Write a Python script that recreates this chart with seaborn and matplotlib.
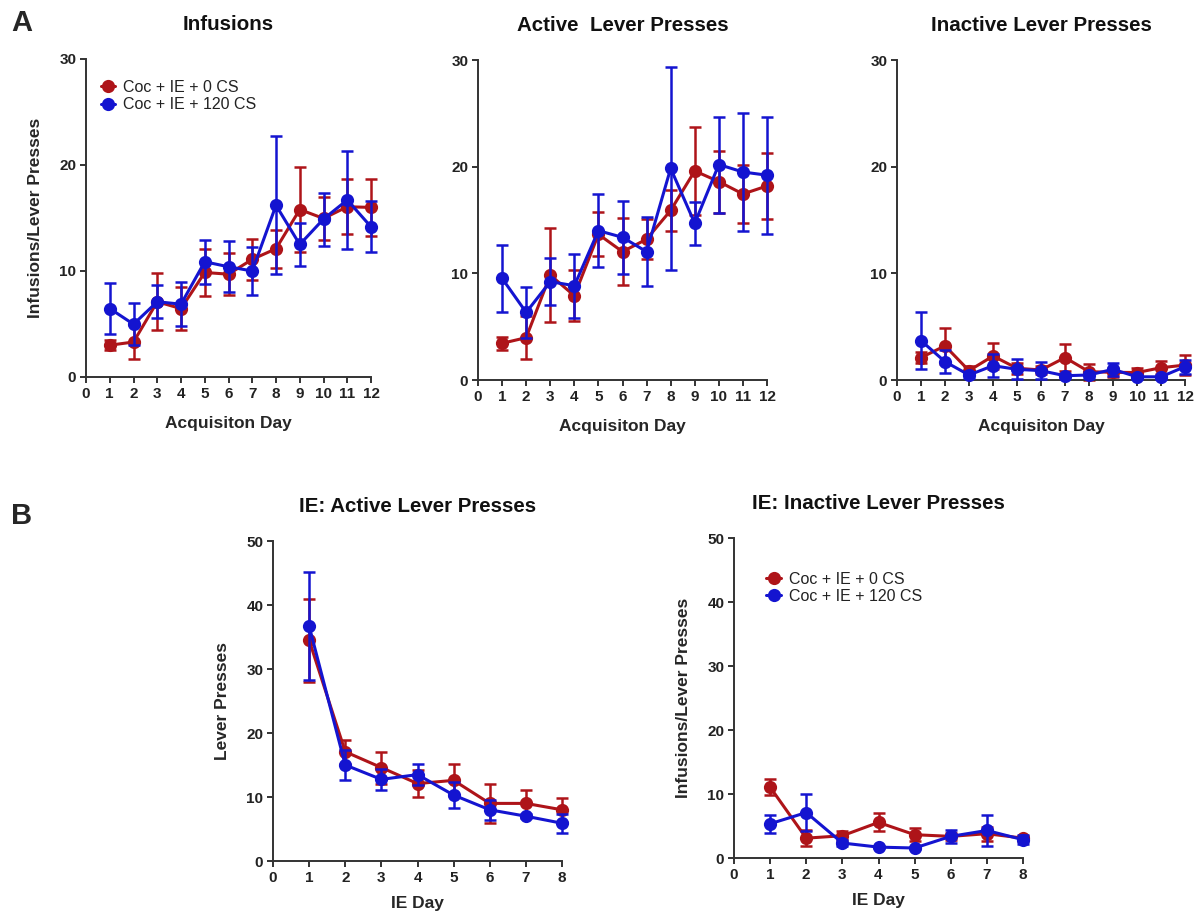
import numpy as np
import pandas as pd
import matplotlib
matplotlib.use("Agg")
import matplotlib.pyplot as plt
import seaborn as sns

sns.set_style("ticks")
plt.rcParams["font.family"] = ["Liberation Sans", "DejaVu Sans"]

groups = ["Coc + IE + 0 CS", "Coc + IE + 120 CS"]
colors = {"Coc + IE + 0 CS": "#AE1419", "Coc + IE + 120 CS": "#1414D0"}

days_acq = list(range(1, 13))
days_ie = list(range(1, 9))

# acquisition: infusions (mean, SEM)
inf_0cs = [3.0, 3.3, 7.1, 6.45, 9.86, 9.7, 11.1, 12.1, 15.8, 14.96, 16.06, 16.0]
inf_0cs_sem = [0.5, 1.6, 2.7, 2.0, 2.2, 2.0, 1.95, 1.8, 4.0, 2.0, 2.6, 2.7]
inf_120cs = [6.46, 4.98, 7.1, 6.87, 10.87, 10.4, 10.0, 16.2, 12.5, 14.9, 16.7, 14.17]
inf_120cs_sem = [2.4, 2.0, 1.55, 2.1, 2.1, 2.4, 2.3, 6.5, 2.0, 2.5, 4.6, 2.4]

# acquisition: active lever presses
act_0cs = [3.44, 3.97, 9.84, 7.9, 13.66, 12.03, 13.2, 15.9, 19.6, 18.6, 17.44, 18.19]
act_0cs_sem = [0.6, 2.0, 4.4, 2.4, 2.05, 3.15, 1.9, 1.9, 4.1, 2.9, 2.7, 3.1]
act_120cs = [9.53, 6.34, 9.22, 8.84, 14.0, 13.375, 12.03, 19.84, 14.69, 20.2, 19.5, 19.2]
act_120cs_sem = [3.15, 2.4, 2.2, 3.0, 3.4, 3.45, 3.25, 9.5, 2.0, 4.5, 5.5, 5.5]

# acquisition: inactive lever presses
inact_0cs = [2.1, 3.2, 0.875, 2.25, 1.1, 0.94, 2.1, 0.78, 0.72, 0.7, 1.15, 1.4]
inact_0cs_sem = [0.55, 1.7, 0.45, 1.25, 0.5, 0.4, 1.3, 0.75, 0.4, 0.4, 0.6, 0.9]
inact_120cs = [3.69, 1.72, 0.47, 1.34, 1.0, 0.875, 0.4, 0.47, 1.0, 0.3, 0.3, 1.25]
inact_120cs_sem = [2.65, 1.1, 0.3, 1.1, 0.95, 0.8, 0.2, 0.3, 0.6, 0.2, 0.2, 0.65]

# IE: active lever presses
ie_act_0cs = [34.5, 17.07, 14.6, 12.1, 12.6, 9.0, 9.0, 8.0]
ie_act_0cs_sem = [6.5, 1.9, 2.5, 2.1, 2.5, 3.0, 2.1, 1.9]
ie_act_120cs = [36.7, 15.0, 12.75, 13.5, 10.3, 8.0, 7.0, 5.9]
ie_act_120cs_sem = [8.4, 2.3, 1.6, 1.7, 2.0, 1.6, 0.3, 1.5]

# IE: inactive lever presses
ie_inact_0cs = [11.07, 3.1, 3.48, 5.56, 3.64, 3.38, 3.8, 3.1]
ie_inact_0cs_sem = [1.3, 1.3, 0.7, 1.4, 1.0, 0.5, 1.1, 0.4]
ie_inact_120cs = [5.35, 7.1, 2.34, 1.7, 1.56, 3.38, 4.3, 2.86]
ie_inact_120cs_sem = [1.4, 2.85, 0.4, 0.2, 0.2, 1.0, 2.4, 0.75]

W, H = 1196, 913
fig = plt.figure(figsize=(W / 100, H / 100), dpi=100)


def add_axes_px(left, right, top, bottom):
    return fig.add_axes([left / W, 1 - bottom / H, (right - left) / W, (bottom - top) / H])


def draw_panel(ax, days, m0, s0, m120, s120, ymax, title, xlabel, ylabel=None,
               legend=False, legend_anchor=None, xlabelpad=12):
    df = pd.DataFrame({
        "day": days * 2,
        "value": m0 + m120,
        "sem": s0 + s120,
        "group": [groups[0]] * len(days) + [groups[1]] * len(days),
    })
    for i, g in enumerate(groups):
        sub = df[df["group"] == g]
        cont = ax.errorbar(sub["day"], sub["value"], yerr=sub["sem"], fmt="none",
                           ecolor=colors[g], elinewidth=1.8, capsize=4.5,
                           capthick=1.8, zorder=2.5 + 2 * i)
        for art in list(cont.lines[1]) + list(cont.lines[2]):
            art.set_clip_on(False)
        sns.lineplot(data=sub, x="day", y="value", color=colors[g], marker="o",
                     markersize=9.5, markeredgewidth=0, linewidth=2.2, ax=ax,
                     label=g, zorder=3 + 2 * i, clip_on=False)
    if ax.get_legend() is not None:
        ax.get_legend().remove()
    if legend:
        leg = ax.legend(loc="upper left", bbox_to_anchor=legend_anchor, frameon=False,
                        handlelength=0.9, handletextpad=0.5, labelspacing=0.15,
                        borderaxespad=0, prop={"size": 11.5})
        for t in leg.get_texts():
            t.set_color("#222222")

    ax.set_xlim(0, max(days))
    ax.set_ylim(0, ymax)
    ax.set_xticks(range(0, max(days) + 1))
    ax.set_yticks(range(0, ymax + 1, 10))
    sns.despine(ax=ax)
    for sp in ["left", "bottom"]:
        ax.spines[sp].set_linewidth(1.4)
        ax.spines[sp].set_color("#333333")
    ax.tick_params(direction="out", length=4, width=1.4, color="#333333",
                   labelsize=11, labelcolor="#222222", pad=3)
    for lbl in ax.get_xticklabels() + ax.get_yticklabels():
        lbl.set_fontweight("bold")
    ax.set_title(title, fontsize=14.8, fontweight="bold", pad=21, color="#111111")
    ax.set_xlabel(xlabel, fontsize=12.5, fontweight="bold", labelpad=xlabelpad)
    ax.set_ylabel(ylabel or "", fontsize=12.5, fontweight="bold", labelpad=12)


ax1 = add_axes_px(86, 371, 59, 377)
draw_panel(ax1, days_acq, inf_0cs, inf_0cs_sem, inf_120cs, inf_120cs_sem, 30,
           "Infusions", "Acquisiton Day", "Infusions/Lever Presses",
           legend=True, legend_anchor=(0.03, 0.955), xlabelpad=11)

ax2 = add_axes_px(478, 767, 60, 380)
draw_panel(ax2, days_acq, act_0cs, act_0cs_sem, act_120cs, act_120cs_sem, 30,
           "Active  Lever Presses", "Acquisiton Day", xlabelpad=11)

ax3 = add_axes_px(897, 1185, 60, 380)
draw_panel(ax3, days_acq, inact_0cs, inact_0cs_sem, inact_120cs, inact_120cs_sem, 30,
           "Inactive Lever Presses", "Acquisiton Day", xlabelpad=11)

ax4 = add_axes_px(273, 562, 541, 861)
draw_panel(ax4, days_ie, ie_act_0cs, ie_act_0cs_sem, ie_act_120cs, ie_act_120cs_sem, 50,
           "IE: Active Lever Presses", "IE Day", "Lever Presses", xlabelpad=8)

ax5 = add_axes_px(734, 1023, 538, 858)
draw_panel(ax5, days_ie, ie_inact_0cs, ie_inact_0cs_sem, ie_inact_120cs, ie_inact_120cs_sem, 50,
           "IE: Inactive Lever Presses", "IE Day", "Infusions/Lever Presses",
           legend=True, legend_anchor=(0.09, 0.915), xlabelpad=8)

fig.text(11 / W, 1 - 23 / H, "A", fontsize=21, fontweight="bold", va="center")
fig.text(11 / W, 1 - 516 / H, "B", fontsize=21, fontweight="bold", va="center")

fig.savefig("out.png", dpi=100)
